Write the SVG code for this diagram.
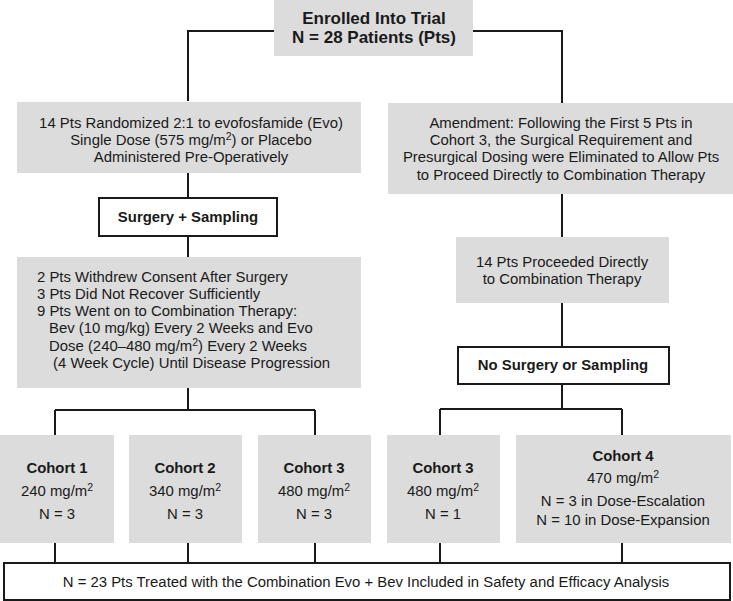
<svg xmlns="http://www.w3.org/2000/svg" width="733" height="601" viewBox="0 0 733 601">
<style>
text{font-family:"Liberation Sans",Arial,sans-serif;fill:#1a1a1a;font-size:14.9px}
.c{text-anchor:middle}
.b{font-weight:bold}
.g{fill:#dcdcdc;stroke:none}
.w{fill:#fff;stroke:#1a1a1a;stroke-width:2}
.l{fill:none;stroke:#1a1a1a;stroke-width:2}
.sup{font-size:10.5px}
</style>
<rect width="733" height="601" fill="#fff"/>
<g id="connectors">
<path class="l" d="M274 31H188V101M473 31H562V103"/>
<path class="l" d="M188 173V198M188 236V257M188 388V410M55 410H315M55 410V435M315 410V435"/>
<path class="l" d="M55 543V563M188 543V563M315 543V563"/>
<path class="l" d="M562 194V237M562 303V347M562 384V409M440 409H622M440 409V435M622 409V435"/>
<path class="l" d="M440 543V563M622 543V563"/>
</g>
<g id="enrolled">
<rect class="g" x="274" y="0" width="199" height="56"/>
<text class="c b" x="374" y="24" style="font-size:17px">Enrolled Into Trial</text>
<text class="c b" x="374" y="43" style="font-size:17px">N = 28 Patients (Pts)</text>
</g>
<g id="randomized">
<rect class="g" x="17" y="102" width="344" height="71"/>
<text class="c" x="191" y="128">14 Pts Randomized 2:1 to evofosfamide (Evo)</text>
<text class="c" x="191" y="145">Single Dose (575 mg/m<tspan class="sup" dy="-5">2</tspan><tspan dy="5">) or Placebo</tspan></text>
<text class="c" x="191" y="162">Administered Pre-Operatively</text>
</g>
<g id="surgery">
<rect class="w" x="99" y="198" width="178" height="38"/>
<text class="c b" x="188" y="222">Surgery + Sampling</text>
</g>
<g id="outcomes">
<rect class="g" x="17" y="257" width="344" height="131"/>
<text x="37" y="282">2 Pts Withdrew Consent After Surgery</text>
<text x="37" y="299">3 Pts Did Not Recover Sufficiently</text>
<text x="37" y="316">9 Pts Went on to Combination Therapy:</text>
<text x="49" y="333">Bev (10 mg/kg) Every 2 Weeks and Evo</text>
<text x="49" y="351">Dose (240–480 mg/m<tspan class="sup" dy="-5">2</tspan><tspan dy="5">) Every 2 Weeks</tspan></text>
<text x="53" y="368">(4 Week Cycle) Until Disease Progression</text>
</g>
<g id="amendment">
<rect class="g" x="388" y="103" width="345" height="91"/>
<text class="c" x="561" y="128">Amendment: Following the First 5 Pts in</text>
<text class="c" x="561" y="145">Cohort 3, the Surgical Requirement and</text>
<text class="c" x="561" y="162">Presurgical Dosing were Eliminated to Allow Pts</text>
<text class="c" x="561" y="180">to Proceed Directly to Combination Therapy</text>
</g>
<g id="proceeded">
<rect class="g" x="456" y="237" width="213" height="66"/>
<text class="c" x="562" y="267">14 Pts Proceeded Directly</text>
<text class="c" x="562" y="284">to Combination Therapy</text>
</g>
<g id="nosurgery">
<rect class="w" x="458" y="347" width="211" height="37"/>
<text class="c b" x="563" y="370">No Surgery or Sampling</text>
</g>
<g id="cohort1">
<rect class="g" x="0" y="435" width="114" height="108"/>
<text class="c b" x="57" y="473">Cohort 1</text>
<text class="c" x="57" y="496">240 mg/m<tspan class="sup" dy="-5">2</tspan></text>
<text class="c" x="57" y="519">N = 3</text>
</g>
<g id="cohort2">
<rect class="g" x="129" y="435" width="113" height="108"/>
<text class="c b" x="185" y="473">Cohort 2</text>
<text class="c" x="185" y="496">340 mg/m<tspan class="sup" dy="-5">2</tspan></text>
<text class="c" x="185" y="519">N = 3</text>
</g>
<g id="cohort3a">
<rect class="g" x="258" y="435" width="113" height="108"/>
<text class="c b" x="314" y="473">Cohort 3</text>
<text class="c" x="314" y="496">480 mg/m<tspan class="sup" dy="-5">2</tspan></text>
<text class="c" x="314" y="519">N = 3</text>
</g>
<g id="cohort3b">
<rect class="g" x="387" y="435" width="113" height="108"/>
<text class="c b" x="443" y="473">Cohort 3</text>
<text class="c" x="443" y="496">480 mg/m<tspan class="sup" dy="-5">2</tspan></text>
<text class="c" x="443" y="519">N = 1</text>
</g>
<g id="cohort4">
<rect class="g" x="516" y="435" width="215" height="108"/>
<text class="c b" x="623" y="461">Cohort 4</text>
<text class="c" x="623" y="483">470 mg/m<tspan class="sup" dy="-5">2</tspan></text>
<text class="c" x="623" y="506">N = 3 in Dose-Escalation</text>
<text class="c" x="623" y="525">N = 10 in Dose-Expansion</text>
</g>
<g id="total">
<rect class="w" x="4" y="563" width="726" height="37"/>
<text class="c" x="366" y="587">N = 23 Pts Treated with the Combination Evo + Bev Included in Safety and Efficacy Analysis</text>
</g>
</svg>
